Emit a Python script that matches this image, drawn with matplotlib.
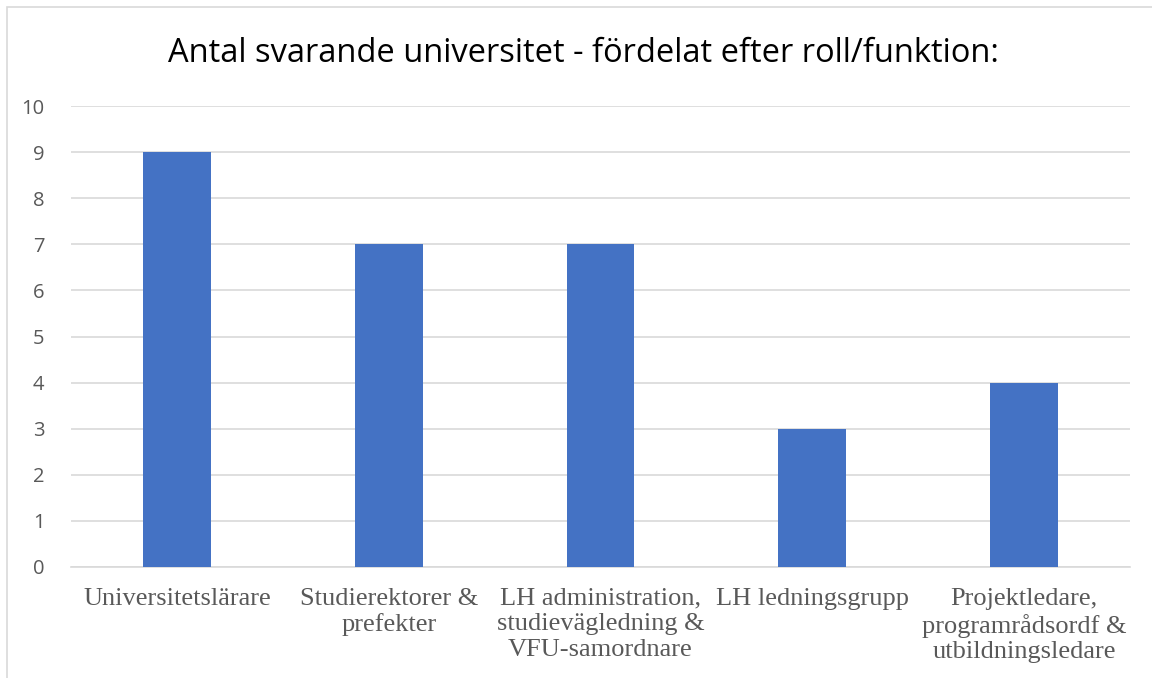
import matplotlib.pyplot as plt
from matplotlib.patches import Rectangle

# data
categories = ['Universitetslärare', 'Studierektorer &\nprefekter',
              'LH administration,\nstudievägledning &\nVFU-samordnare',
              'LH ledningsgrupp',
              'Projektledare,\nprogramrådsordf &\nutbildningsledare']
values = [9, 7, 7, 3, 4]
yticks = list(range(0, 11))

title = 'Antal svarande universitet - fördelat efter roll/funktion:'
bar_color = '#4472C4'
text_gray = '#595959'
grid_gray = '#D9D9D9'

fig = plt.figure(figsize=(11.52, 6.78), dpi=100)

# chart area border (only top/left visible in the reference)
fig.patches.append(Rectangle((7 / 1152, -0.1), 1.2, 1 - 7 / 678 + 0.1,
                             transform=fig.transFigure, fill=False,
                             edgecolor=grid_gray, linewidth=1.2))

ax = fig.add_axes([71 / 1152, 1 - 567 / 678, (1130 - 71) / 1152, (567 - 106) / 678])

x = range(len(categories))
ax.bar(x, values, width=0.32, color=bar_color, zorder=3)

ax.set_xlim(-0.5, len(categories) - 0.5)
ax.set_ylim(0, 10)
ax.set_yticks(yticks)
ax.set_xticks(list(x))
ax.set_xticklabels(categories, fontfamily='Liberation Serif', fontsize=19,
                   color=text_gray, linespacing=1.2)
ax.tick_params(axis='x', length=0, pad=15)
ax.tick_params(axis='y', length=0, pad=19, labelsize=14.5, labelcolor=text_gray)
for lbl in ax.get_yticklabels():
    lbl.set_fontfamily('Open Sans')

ax.grid(axis='y', color=grid_gray, linewidth=1.2, zorder=0)
for s in ['top', 'right', 'left']:
    ax.spines[s].set_visible(False)
ax.spines['bottom'].set_color(grid_gray)
ax.spines['bottom'].set_linewidth(1.2)

fig.text(583 / 1152, 1 - 54 / 678, title, ha='center', va='center',
         fontfamily='Open Sans', fontsize=23.5, color='#000000')

fig.savefig('out.png', dpi=100)
